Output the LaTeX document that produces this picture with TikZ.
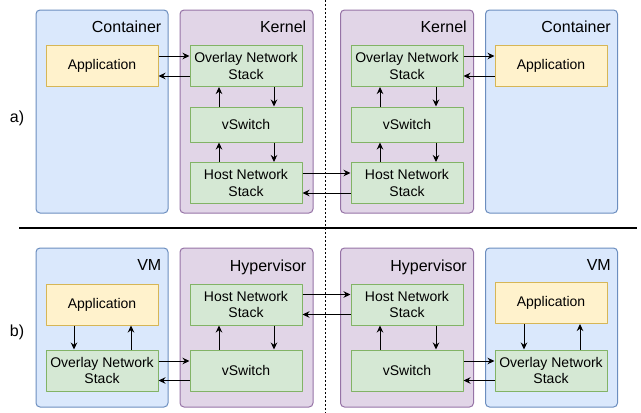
\documentclass[tikz,border=0pt]{standalone}
\usepackage{fontspec}
\setmainfont{Liberation Sans}
\usetikzlibrary{arrows.meta}
\definecolor{bluefill}{HTML}{DAE8FC}
\definecolor{bluedraw}{HTML}{6C8EBF}
\definecolor{purplefill}{HTML}{E1D5E7}
\definecolor{purpledraw}{HTML}{9673A6}
\definecolor{greenfill}{HTML}{D5E8D4}
\definecolor{greendraw}{HTML}{82B366}
\definecolor{yellowfill}{HTML}{FFF2CC}
\definecolor{yellowdraw}{HTML}{D6B656}
\tikzset{
  guest/.style={draw=bluedraw,fill=bluefill,line width=1pt,rounded corners=4pt,minimum width=132pt},
  host/.style={draw=purpledraw,fill=purplefill,line width=1pt,rounded corners=4pt,minimum width=133pt},
  layer/.style={draw=greendraw,fill=greenfill,line width=1pt,minimum width=112pt,minimum height=41pt,align=center,
    font=\fontsize{14}{16.5}\selectfont},
  app/.style={layer,draw=yellowdraw,fill=yellowfill},
  title/.style={anchor=north east,inner sep=0pt,font=\fontsize{16}{18}\selectfont},
  flow/.style={->,line width=1pt}
}
\begin{document}
\begin{tikzpicture}[>={Stealth[length=7pt,width=6.5pt]},line join=round,x=1pt,y=-1pt]
	\useasboundingbox (0,0) rectangle (641,413);
	% a) containers
	\node[guest,minimum height=203pt] (contL) at (102,111.5) {};
	\node[host,minimum height=203pt] (kernL) at (246.5,111.5) {};
	\node[host,minimum height=203pt] (kernR) at (407,111.5) {};
	\node[guest,minimum height=203pt] (contR) at (551.5,111.5) {};
	\node[title] at ([xshift=-7pt,yshift=-11pt]contL.north east) {Container};
	\node[title] at ([xshift=-7pt,yshift=-11pt]kernL.north east) {Kernel};
	\node[title] at ([xshift=-7pt,yshift=-11pt]kernR.north east) {Kernel};
	\node[title] at ([xshift=-7pt,yshift=-11pt]contR.north east) {Container};
	\node[app] (appaL) at (102,66) {Application};
	\node[layer] (ovaL) at (246,66) {Overlay Network\\Stack};
	\node[layer,minimum height=35pt] (swaL) at (246,124.5) {vSwitch};
	\node[layer] (hstaL) at (246,183) {Host Network\\Stack};
	\node[layer] (ovaR) at (407,66) {Overlay Network\\Stack};
	\node[layer,minimum height=35pt] (swaR) at (407,124.5) {vSwitch};
	\node[layer] (hstaR) at (407,183) {Host Network\\Stack};
	\node[app] (appaR) at (551,66) {Application};
	\draw[flow] ([yshift=10pt]appaL.east) -- ([yshift=10pt]ovaL.west);
	\draw[flow] ([yshift=-10pt]ovaL.west) -- ([yshift=-10pt]appaL.east);
	\draw[flow] ([xshift=28pt]ovaL.south) -- ([xshift=28pt]swaL.north);
	\draw[flow] ([xshift=28pt]swaL.south) -- ([xshift=28pt]hstaL.north);
	\draw[flow] ([xshift=-27pt]hstaL.north) -- ([xshift=-27pt]swaL.south);
	\draw[flow] ([xshift=-27pt]swaL.north) -- ([xshift=-27pt]ovaL.south);
	\draw[flow] ([yshift=10pt]hstaL.east) -- ([yshift=10pt]hstaR.west);
	\draw[flow] ([yshift=-10pt]hstaR.west) -- ([yshift=-10pt]hstaL.east);
	\draw[flow] ([xshift=29pt]ovaR.south) -- ([xshift=29pt]swaR.north);
	\draw[flow] ([xshift=29pt]swaR.south) -- ([xshift=29pt]hstaR.north);
	\draw[flow] ([xshift=-27pt]hstaR.north) -- ([xshift=-27pt]swaR.south);
	\draw[flow] ([xshift=-27pt]swaR.north) -- ([xshift=-27pt]ovaR.south);
	\draw[flow] ([yshift=10pt]ovaR.east) -- ([yshift=10pt]appaR.west);
	\draw[flow] ([yshift=-10pt]appaR.west) -- ([yshift=-10pt]ovaR.east);
	% b) virtual machines
	\node[guest,minimum height=159pt] (vmL) at (102,327.5) {};
	\node[host,minimum height=159pt] (hypL) at (246.5,327.5) {};
	\node[host,minimum height=159pt] (hypR) at (407,327.5) {};
	\node[guest,minimum height=159pt] (vmR) at (551.5,327.5) {};
	\node[title] at ([xshift=-7pt,yshift=-12pt]vmL.north east) {VM};
	\node[title] at ([xshift=-7pt,yshift=-12pt]hypL.north east) {Hypervisor};
	\node[title] at ([xshift=-7pt,yshift=-12pt]hypR.north east) {Hypervisor};
	\node[title] at ([xshift=-7pt,yshift=-12pt]vmR.north east) {VM};
	\node[app] (appbL) at (102,304.5) {Application};
	\node[layer] (ovbL) at (102,370.5) {Overlay Network\\Stack};
	\node[layer] (hstbL) at (246,304.5) {Host Network\\Stack};
	\node[layer] (swbL) at (246,370.5) {vSwitch};
	\node[layer] (hstbR) at (407,304.5) {Host Network\\Stack};
	\node[layer] (swbR) at (407,370.5) {vSwitch};
	\node[app] (appbR) at (551,303) {Application};
	\node[layer] (ovbR) at (551,370.5) {Overlay Network\\Stack};
	\draw[flow] ([xshift=-28pt]appbL.south) -- ([xshift=-28pt]ovbL.north);
	\draw[flow] ([xshift=29pt]ovbL.north) -- ([xshift=29pt]appbL.south);
	\draw[flow] ([yshift=9.5pt]ovbL.east) -- ([yshift=9.5pt]swbL.west);
	\draw[flow] ([yshift=-10pt]swbL.west) -- ([yshift=-10pt]ovbL.east);
	\draw[flow] ([xshift=-27pt]swbL.north) -- ([xshift=-27pt]hstbL.south);
	\draw[flow] ([xshift=28pt]hstbL.south) -- ([xshift=28pt]swbL.north);
	\draw[flow] ([yshift=10pt]hstbL.east) -- ([yshift=10pt]hstbR.west);
	\draw[flow] ([yshift=-10pt]hstbR.west) -- ([yshift=-10pt]hstbL.east);
	\draw[flow] ([xshift=-27pt]swbR.north) -- ([xshift=-27pt]hstbR.south);
	\draw[flow] ([xshift=29pt]hstbR.south) -- ([xshift=29pt]swbR.north);
	\draw[flow] ([yshift=9.5pt]swbR.east) -- ([yshift=9.5pt]ovbR.west);
	\draw[flow] ([yshift=-10pt]ovbR.west) -- ([yshift=-10pt]swbR.east);
	\draw[flow] ([xshift=-27pt]appbR.south) -- ([xshift=-27pt]ovbR.north);
	\draw[flow] ([xshift=29pt]ovbR.north) -- ([xshift=29pt]appbR.south);
	% separators
	\draw[line width=1pt,dash pattern=on 2pt off 2pt] (325,0) -- (325,413);
	\draw[line width=1.5pt] (19,228) -- (637,228);
	\node[font=\fontsize{16}{18}\selectfont] (parta) at (17,118) {a)};
	\node[font=\fontsize{16}{18}\selectfont] (partb) at (17,332) {b)};
\end{tikzpicture}
\end{document}
